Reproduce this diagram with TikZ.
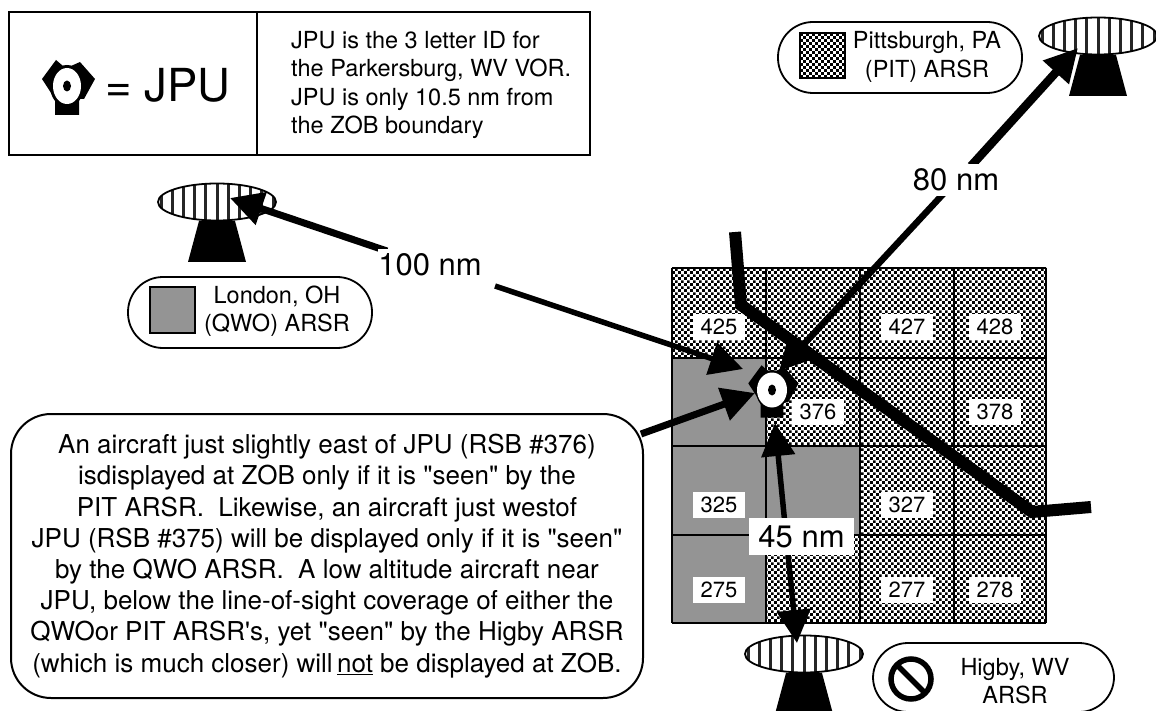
\documentclass[tikz,border=0pt]{standalone}
\usepackage{fontspec}
\setmainfont{TeX Gyre Heros}[Ligatures=TeXOff]
\usetikzlibrary{arrows.meta,patterns,shapes.geometric}
\pgfdeclarepatternformonly{chk}{\pgfqpoint{0pt}{0pt}}{\pgfqpoint{6.4pt}{6.4pt}}{\pgfqpoint{6.4pt}{6.4pt}}{%
  \pgfpathrectangle{\pgfqpoint{0.15pt}{0.15pt}}{\pgfqpoint{2.9pt}{2.9pt}}%
  \pgfpathrectangle{\pgfqpoint{3.35pt}{3.35pt}}{\pgfqpoint{2.9pt}{2.9pt}}%
  \pgfusepath{fill}}
\definecolor{qwogray}{gray}{0.58}
\tikzset{
  x=1pt,y=-1pt,
  boxline/.style={draw=black,line width=2pt},
  pill/.style={draw=black,line width=1.8pt,fill=white,rounded corners=35pt},
  cellnum/.style={fill=white,inner sep=0pt,minimum width=52pt,minimum height=26pt,font=\fontsize{22}{24}\selectfont},
  distlabel/.style={fill=white,inner sep=0pt,font=\fontsize{31}{33}\selectfont},
  legendtxt/.style={align=center,inner sep=0pt,font=\fontsize{23.5}{28.5}\selectfont},
  arrowline/.style={draw=black,line cap=butt},
  bighead/.style={-{Triangle[length=33pt,width=33pt]}},
  pitpat/.style={pattern=chk,pattern color=black},
}
\newcommand{\radarant}[3]{% name, cx, top of base
  \begin{scope}
    \fill[black] (#2-18,#3) -- (#2+18,#3) -- (#2+29,#3+41) -- (#2-29,#3+41) -- cycle;
    \node[ellipse,draw=none,minimum width=118pt,minimum height=37pt,inner sep=0pt] (#1) at (#2,#3-19) {};
    \begin{scope}
      \clip (#2,#3-19) ellipse [x radius=59,y radius=18.5];
      \fill[white] (#2-60,#3-40) rectangle (#2+60,#3);
      \foreach \k in {-5,...,5}{\fill[black!85] (#2+\k*11.2-1.5,#3-40) rectangle (#2+\k*11.2+1.5,#3);}
    \end{scope}
    \draw[black,line width=1.8pt] (#2,#3-19) ellipse [x radius=59,y radius=18.5];
  \end{scope}}
\newcommand{\jpuicon}[5]{% cx, cy, scale, white rx, white ry
  \begin{scope}[shift={(#1,#2)},scale=#3]
    \fill[black] (-11,-26) -- (-4,-20) -- (4,-20) -- (13,-24) -- (28,-7) -- (17,13) -- (12,13) -- (12,29) -- (-12,29) -- (-12,13) -- (-25,-7) -- cycle;
    \fill[black] (0,0) ellipse [x radius=17,y radius=21];
  \end{scope}
  \fill[white] (#1,#2) ellipse [x radius=#4,y radius=#5];
  \fill[black] (#1,#2) ellipse [x radius=4,y radius=5.5];}
\begin{document}
\begin{tikzpicture}
\useasboundingbox (0,0) rectangle (1156,711);
\fill[white] (0,0) rectangle (1156,711);
% key box
\draw[boxline] (9,12) rectangle (590,155);
\draw[boxline] (257,12) -- (257,155);
\jpuicon{67}{86}{1}{14}{18}
\node[anchor=west,inner sep=0pt,font=\fontsize{45.5}{47}\selectfont] (eq) at (105,85) {= JPU};
\node[anchor=west,align=left,inner sep=0pt,font=\fontsize{23.5}{28.5}\selectfont] (keytxt) at (291,85) {JPU is the 3 letter ID for\\the Parkersburg, WV VOR.\\JPU is only 10.5 nm from\\the ZOB boundary};
% grid
\fill[pitpat] (672,268) rectangle (1046,623);
\fill[qwogray] (672,358) rectangle (766,623);
\fill[qwogray] (766,446) rectangle (860,535);
\foreach \xx in {672,766,860,954,1046}{\draw[boxline] (\xx,268) -- (\xx,623);}
\foreach \yy in {268,358,446,535,623}{\draw[boxline] (672,\yy) -- (1046,\yy);}
\node[cellnum] (c425) at (719,327) {425};
\node[cellnum] (c427) at (907,327) {427};
\node[cellnum] (c428) at (995,327) {428};
\node[cellnum] (c376) at (818,412) {376};
\node[cellnum] (c378) at (995,412) {378};
\node[cellnum] (c325) at (719,505) {325};
\node[cellnum] (c327) at (907,505) {327};
\node[cellnum] (c275) at (719,590) {275};
\node[cellnum] (c277) at (907,590) {277};
\node[cellnum] (c278) at (995,590) {278};
% boundary
\draw[black,line width=12pt,line join=miter] (735,232) -- (741,305) -- (1032,512) -- (1091,507);
% radars
\radarant{qwo}{217}{221}
\radarant{pit}{1098}{55}
\radarant{hig}{804}{673}
% JPU icon
\jpuicon{772}{390}{0.95}{15}{17.5}
% bubble
\node[draw=black,line width=2pt,fill=white,rounded corners=40pt,minimum width=632pt,minimum height=284pt,inner sep=0pt,
  align=center,font=\fontsize{26}{31.2}\selectfont] (bubble) at (327,556) {An aircraft just slightly east of JPU (RSB \#376)\\isdisplayed at ZOB only if it is "seen" by the\\PIT ARSR.\ \ Likewise, an aircraft just westof\\JPU (RSB \#375) will be displayed only if it is "seen"\\by the QWO ARSR.\ \ A low altitude aircraft near\\JPU, below the line-of-sight coverage of either the\\QWOor PIT ARSR's, yet "seen" by the Higby ARSR\\(which is much closer) will\,\underline{not} be displayed at ZOB.};
% arrow ends
\coordinate (qwotip) at (230,198);
\coordinate (jpuA) at (743,369);
\coordinate (jpuB) at (755,393);
\coordinate (jpuC) at (779,371);
\coordinate (jpuD) at (775,423);
\coordinate (pittip) at (1078,48);
\coordinate (higtip) at (797,643);
\coordinate (bubbleout) at (641,434);
% arrows
\draw[arrowline,line width=7pt,bighead] (387,251) -- (qwotip);
\draw[arrowline,line width=5.5pt,bighead] (495,286) -- (jpuA);
\draw[arrowline,line width=7pt,bighead] (bubbleout) -- (jpuB);
\draw[arrowline,line width=8.5pt,bighead] (971,166) -- (pittip);
\draw[arrowline,line width=6.5pt,bighead] (945,192) -- (jpuC);
\draw[arrowline,line width=5.5pt,bighead] (786,535) -- (jpuD);
\draw[arrowline,line width=5.5pt,bighead] (786,535) -- (higtip);
% labels
\node[distlabel,minimum width=104pt,minimum height=31pt] (d100) at (430,265) {100 nm};
\node[distlabel,minimum width=102pt,minimum height=32pt] (d80) at (956,180) {80 nm};
\node[distlabel,minimum width=105pt,minimum height=37pt] (d45) at (801.5,536.5) {45 nm};
% legends
\draw[pill] (128,277) rectangle (372,348);
\fill[qwogray,draw=black,line width=2pt] (150,287) rectangle (195,333);
\node[legendtxt] (lq) at (277,311) {London, OH\\(QWO) ARSR};
\draw[pill] (778,22) rectangle (1022,93);
\fill[pitpat] (800,33) rectangle (845,78);
\draw[black,line width=2pt] (800,33) rectangle (845,78);
\node[legendtxt] (lp) at (927,57) {Pittsburgh, PA\\(PIT) ARSR};
\draw[pill] (873,643) rectangle (1114,712);
\draw[black,line width=5.5pt] (911,679) circle [radius=20];
\draw[black,line width=5.5pt] (897,665) -- (925,693);
\node[legendtxt] (lh) at (1015,681) {Higby, WV\\ARSR};
\end{tikzpicture}
\end{document}
